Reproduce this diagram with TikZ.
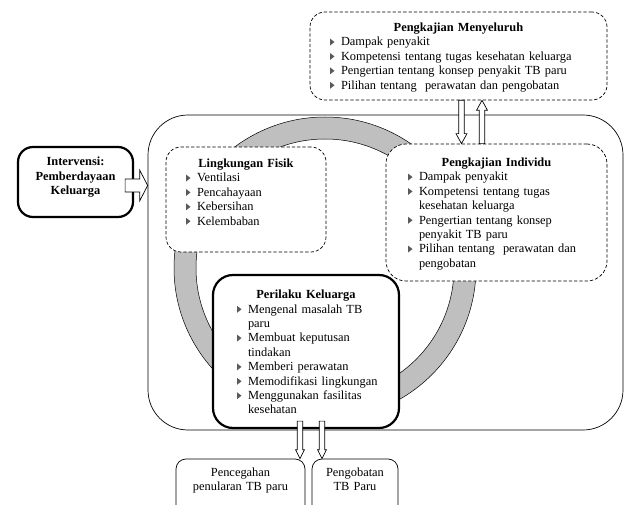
\documentclass[tikz,border=0pt]{standalone}
\usepackage{fontspec}
\setmainfont{Liberation Serif}
\usepackage{tikz}
\usetikzlibrary{calc}
\hyphenpenalty=10000
\exhyphenpenalty=10000
\definecolor{ringgray}{RGB}{191,191,191}
\definecolor{bulgray}{RGB}{90,90,90}
\newcommand{\bul}{\par\noindent\hangindent=11pt\hangafter=1\makebox[11pt][l]{\raisebox{0.3pt}{\tikz[sharp corners, solid, x=1pt, y=1pt]\fill[bulgray] (0,0) -- (0,7) -- (4.5,3.5) -- cycle;}}}
\newcommand{\blockarrow}[5]{%
    \coordinate (ba-h) at ($(#2)!#5!(#1)$);
    \draw[arrowline] ($(#1)!#3!90:(#2)$) -- ($(ba-h)!#3!90:(#2)$) -- ($(ba-h)!#4!90:(#2)$) -- (#2)
        -- ($(ba-h)!#4!-90:(#2)$) -- ($(ba-h)!#3!-90:(#2)$) -- ($(#1)!#3!-90:(#2)$) -- cycle;
}
\tikzset{
    every node/.style={font=\fontsize{12.4}{14.4}\selectfont},
    dashbox/.style={draw, dash pattern=on 3.3pt off 2pt, line width=0.7pt, fill=white, rounded corners=15pt},
    thickbox/.style={draw, line width=2.2pt, fill=white, rounded corners=20pt},
    thinbox/.style={draw, line width=0.7pt, fill=white, rounded corners=10pt},
    txt/.style={anchor=north, inner sep=0pt, align=left},
    arrowline/.style={draw, fill=white, line width=0.7pt},
}

\begin{document}
\begin{tikzpicture}[x=1pt, y=-1pt]
\useasboundingbox (0,0) rectangle (624,505);
\clip (0,0) rectangle (624,505);

\node[draw, line width=0.7pt, rounded corners=40pt, minimum width=475pt, minimum height=315pt] (frame) at (385.5,272.5) {};
\draw[fill=ringgray, even odd rule, line width=0.5pt] (325,268) circle[radius=151] (325,268) circle[radius=129];

\node[dashbox, minimum width=297pt, minimum height=88pt] (men) at (458.5,56) {};
\node[txt, text width=257pt] (men-t) at ($(men.north)+(0,11)$) {%
{\centering\bfseries Pengkajian Menyeluruh\par}
\bul Dampak penyakit
\bul Kompetensi tentang tugas kesehatan keluarga
\bul Pengertian tentang konsep penyakit TB paru
\bul Pilihan tentang~ perawatan dan pengobatan\par};

\node[thickbox, rounded corners=15pt, minimum width=115pt, minimum height=70pt] (int) at (75.5,182) {};
\node[txt, text width=110pt, align=center] (int-t) at ($(int.north)+(0,11)$) {%
\bfseries Intervensi:\par Pemberdayaan\par Keluarga\par};

\node[dashbox, minimum width=160pt, minimum height=105pt] (lf) at (246,199.5) {};
\node[txt, text width=120pt] (lf-t) at ($(lf.north)+(0,12)$) {%
{\centering\bfseries Lingkungan Fisik\par}
\bul Ventilasi
\bul Pencahayaan
\bul Kebersihan
\bul Kelembaban\par};

\node[dashbox, rounded corners=20pt, minimum width=221pt, minimum height=137pt] (ind) at (496.5,212.5) {};
\node[txt, text width=177pt] (ind-t) at ($(ind.north)+(0,14)$) {%
{\centering\bfseries Pengkajian Individu\par}
\bul Dampak penyakit
\bul Kompetensi tentang tugas kesehatan keluarga
\bul Pengertian tentang konsep penyakit TB paru
\bul Pilihan tentang~ perawatan dan pengobatan\par};

\node[thickbox, minimum width=186pt, minimum height=153pt] (pk) at (306,351.5) {};
\node[txt, text width=150pt] (pk-t) at ($(pk.north)+(0,16)$) {%
{\centering\bfseries Perilaku Keluarga\par}
\leftskip=6pt
\bul Mengenal masalah TB paru
\bul Membuat keputusan tindakan
\bul Memberi perawatan
\bul Memodifikasi lingkungan
\bul Menggunakan fasilitas kesehatan\par};

\node[thinbox, minimum width=129pt, minimum height=60pt] (pc) at (240.5,489) {};
\node[txt, text width=125pt, align=center] (pc-t) at ($(pc.north)+(0,9)$) {Pencegahan\par penularan TB paru\par};
\node[thinbox, minimum width=86pt, minimum height=60pt] (po) at (355,489) {};
\node[txt, text width=82pt, align=center] (po-t) at ($(po.north)+(0,9)$) {Pengobatan\par TB Paru\par};

\coordinate (i1) at ($(int.east)+(-9,3.5)$);
\blockarrow{i1}{i1 -| frame.west}{6.5pt}{15.5pt}{8pt}
\coordinate (m1) at ($(men.south)+(3,0)$);
\blockarrow{m1}{m1 |- ind.north}{2.7pt}{5.5pt}{10pt}
\coordinate (m2) at ($(ind.north)+(-14.5,0)$);
\blockarrow{m2}{m2 |- men.south}{2.7pt}{5.5pt}{10pt}
\coordinate (p1) at ($(pk.south)+(-6,-8)$);
\blockarrow{p1}{p1 |- pc.north}{2.7pt}{4.5pt}{9pt}
\coordinate (p2) at ($(pk.south)+(16,-8)$);
\blockarrow{p2}{p2 |- po.north}{2.7pt}{4.5pt}{9pt}
\end{tikzpicture}
\end{document}
